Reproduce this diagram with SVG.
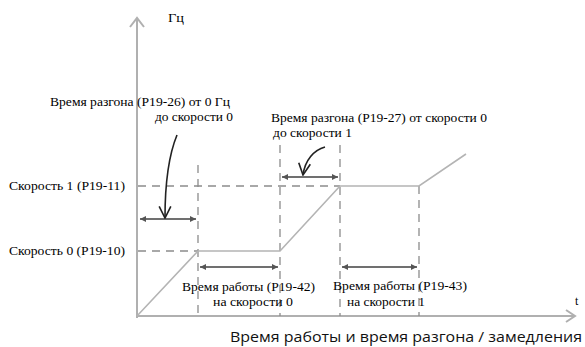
<svg xmlns="http://www.w3.org/2000/svg" width="585" height="347" viewBox="0 0 585 347">
<style>
.axis{stroke:#b0b0b0;stroke-width:2;fill:none}
.plot{stroke:#b4b4b4;stroke-width:1.6;fill:none}
.dash{stroke:#8c8c8c;stroke-width:1.3;stroke-dasharray:8,6;fill:none}
.dim{stroke:#707070;stroke-width:2;fill:none;marker-start:url(#ah);marker-end:url(#ah)}
.curl{stroke:#222;stroke-width:1.6;fill:none;marker-end:url(#open)}
.lbl{font-family:"Liberation Serif","DejaVu Serif",serif;font-size:12px;fill:#000}
.cap{font-family:"Open Sans","Noto Sans",sans-serif;font-size:14px;fill:#111}
</style>
<defs>
<marker id="ah" viewBox="0 0 10 10" refX="10" refY="5" markerWidth="6" markerHeight="6" orient="auto-start-reverse" markerUnits="userSpaceOnUse">
<path d="M0,0 L10,5 L0,10 z" fill="#555"/>
</marker>
<marker id="open" viewBox="0 0 12 12" refX="11" refY="6" markerWidth="14" markerHeight="14" orient="auto" markerUnits="userSpaceOnUse">
<path d="M1,1 L11,6 L1,11" fill="none" stroke="#222" stroke-width="1.4"/>
</marker>
</defs>
<g id="connectors">
<path class="axis" d="M137,318 V18 M130,27 L137,18 L144,27"/>
<path class="axis" d="M136,316 H575 M566,310 L575,316 L566,322"/>
<path class="dash" d="M198,165 V316 M280,145 V316 M340,145 V316 M419,186 V316"/>
<path class="dash" d="M138,186 H340 M138,251 H198"/>
<path class="plot" d="M137,316 L198,251 H280 L340,186 H419 L466,154"/>
<line class="dim" x1="140" y1="219" x2="196" y2="219"/>
<line class="dim" x1="282" y1="177" x2="338" y2="177"/>
<line class="dim" x1="200" y1="267" x2="278" y2="267"/>
<line class="dim" x1="342" y1="267" x2="417" y2="267"/>
<path class="curl" d="M177,135 C170,152 165,180 165,218"/>
<path class="curl" d="M325,147 C314,150 305,160 303,175"/>
</g>
<g id="axis-y-label"><text class="lbl" x="168" y="22" textLength="16" lengthAdjust="spacingAndGlyphs">Гц</text></g>
<g id="axis-x-label"><text class="lbl" x="575" y="305">t</text></g>
<g id="accel0-label">
<text class="lbl" x="50" y="106" textLength="180" lengthAdjust="spacingAndGlyphs">Время разгона (P19-26) от 0 Гц</text>
<text class="lbl" x="155" y="121" textLength="78" lengthAdjust="spacingAndGlyphs">до скорости 0</text>
</g>
<g id="accel1-label">
<text class="lbl" x="271" y="122" textLength="216" lengthAdjust="spacingAndGlyphs">Время разгона (P19-27) от скорости 0</text>
<text class="lbl" x="273" y="137" textLength="79" lengthAdjust="spacingAndGlyphs">до скорости 1</text>
</g>
<g id="speed1-label"><text class="lbl" x="9" y="190" textLength="116" lengthAdjust="spacingAndGlyphs">Скорость 1 (P19-11)</text></g>
<g id="speed0-label"><text class="lbl" x="9" y="255" textLength="116" lengthAdjust="spacingAndGlyphs">Скорость 0 (P19-10)</text></g>
<g id="run0-label">
<text class="lbl" x="182" y="291" textLength="133" lengthAdjust="spacingAndGlyphs">Время работы (P19-42)</text>
<text class="lbl" x="213" y="306" textLength="80" lengthAdjust="spacingAndGlyphs">на скорости 0</text>
</g>
<g id="run1-label">
<text class="lbl" x="333" y="290" textLength="134" lengthAdjust="spacingAndGlyphs">Время работы (P19-43)</text>
<text class="lbl" x="347" y="306" textLength="78" lengthAdjust="spacingAndGlyphs">на скорости 1</text>
</g>
<g id="caption"><text class="cap" x="230" y="342" textLength="352" lengthAdjust="spacingAndGlyphs">Время работы и время разгона / замедления</text></g>
</svg>
